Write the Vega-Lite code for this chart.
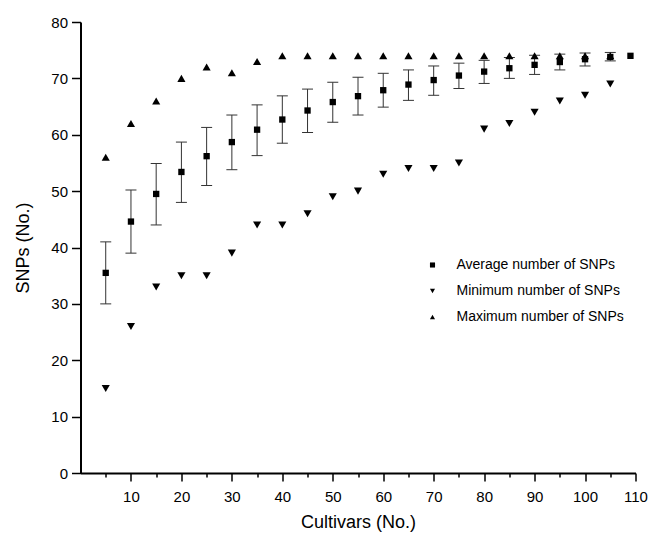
{
  "$schema": "https://vega.github.io/schema/vega-lite/v6.json",
  "width": 555,
  "height": 451,
  "autosize": {"type": "none"},
  "padding": {"left": 80.5, "top": 22, "right": 24.5, "bottom": 63},
  "background": "white",
  "config": {
    "view": {"stroke": null},
    "axis": {
      "grid": false,
      "domainColor": "black",
      "domainWidth": 2,
      "tickColor": "black",
      "tickWidth": 1.5,
      "labelColor": "black",
      "titleColor": "black",
      "labelFont": "Liberation Sans",
      "labelFontSize": 15,
      "titleFont": "Liberation Sans",
      "titleFontSize": 18,
      "titleFontWeight": "normal"
    }
  },
  "resolve": {"axis": {"x": "independent"}},
  "datasets": {
    "err": [
      {"n": 5, "lo": 30, "hi": 41},
      {"n": 10, "lo": 39, "hi": 50.2},
      {"n": 15, "lo": 44, "hi": 54.9},
      {"n": 20, "lo": 48, "hi": 58.7},
      {"n": 25, "lo": 51, "hi": 61.3},
      {"n": 30, "lo": 53.8, "hi": 63.5},
      {"n": 35, "lo": 56.3, "hi": 65.3},
      {"n": 40, "lo": 58.5, "hi": 66.9},
      {"n": 45, "lo": 60.4, "hi": 68.1},
      {"n": 50, "lo": 62.2, "hi": 69.3},
      {"n": 55, "lo": 63.5, "hi": 70.2},
      {"n": 60, "lo": 64.9, "hi": 70.9},
      {"n": 65, "lo": 66.1, "hi": 71.5},
      {"n": 70, "lo": 67.0, "hi": 72.2},
      {"n": 75, "lo": 68.2, "hi": 72.7},
      {"n": 80, "lo": 69.1, "hi": 73.2},
      {"n": 85, "lo": 70.0, "hi": 73.7},
      {"n": 90, "lo": 70.7, "hi": 74.1},
      {"n": 95, "lo": 71.5, "hi": 74.3},
      {"n": 100, "lo": 72.2, "hi": 74.5},
      {"n": 105, "lo": 73.1, "hi": 74.6}
    ],
    "pts": [
      {"n": 5, "series": "Maximum number of SNPs", "snps": 56},
      {"n": 10, "series": "Maximum number of SNPs", "snps": 62},
      {"n": 15, "series": "Maximum number of SNPs", "snps": 66},
      {"n": 20, "series": "Maximum number of SNPs", "snps": 70},
      {"n": 25, "series": "Maximum number of SNPs", "snps": 72},
      {"n": 30, "series": "Maximum number of SNPs", "snps": 71},
      {"n": 35, "series": "Maximum number of SNPs", "snps": 73},
      {"n": 40, "series": "Maximum number of SNPs", "snps": 74},
      {"n": 45, "series": "Maximum number of SNPs", "snps": 74},
      {"n": 50, "series": "Maximum number of SNPs", "snps": 74},
      {"n": 55, "series": "Maximum number of SNPs", "snps": 74},
      {"n": 60, "series": "Maximum number of SNPs", "snps": 74},
      {"n": 65, "series": "Maximum number of SNPs", "snps": 74},
      {"n": 70, "series": "Maximum number of SNPs", "snps": 74},
      {"n": 75, "series": "Maximum number of SNPs", "snps": 74},
      {"n": 80, "series": "Maximum number of SNPs", "snps": 74},
      {"n": 85, "series": "Maximum number of SNPs", "snps": 74},
      {"n": 90, "series": "Maximum number of SNPs", "snps": 74},
      {"n": 95, "series": "Maximum number of SNPs", "snps": 74},
      {"n": 100, "series": "Maximum number of SNPs", "snps": 74},
      {"n": 105, "series": "Maximum number of SNPs", "snps": 74},
      {"n": 5, "series": "Minimum number of SNPs", "snps": 15},
      {"n": 10, "series": "Minimum number of SNPs", "snps": 26},
      {"n": 15, "series": "Minimum number of SNPs", "snps": 33},
      {"n": 20, "series": "Minimum number of SNPs", "snps": 35},
      {"n": 25, "series": "Minimum number of SNPs", "snps": 35},
      {"n": 30, "series": "Minimum number of SNPs", "snps": 39},
      {"n": 35, "series": "Minimum number of SNPs", "snps": 44},
      {"n": 40, "series": "Minimum number of SNPs", "snps": 44},
      {"n": 45, "series": "Minimum number of SNPs", "snps": 46},
      {"n": 50, "series": "Minimum number of SNPs", "snps": 49},
      {"n": 55, "series": "Minimum number of SNPs", "snps": 50},
      {"n": 60, "series": "Minimum number of SNPs", "snps": 53},
      {"n": 65, "series": "Minimum number of SNPs", "snps": 54},
      {"n": 70, "series": "Minimum number of SNPs", "snps": 54},
      {"n": 75, "series": "Minimum number of SNPs", "snps": 55},
      {"n": 80, "series": "Minimum number of SNPs", "snps": 61},
      {"n": 85, "series": "Minimum number of SNPs", "snps": 62},
      {"n": 90, "series": "Minimum number of SNPs", "snps": 64},
      {"n": 95, "series": "Minimum number of SNPs", "snps": 66},
      {"n": 100, "series": "Minimum number of SNPs", "snps": 67},
      {"n": 105, "series": "Minimum number of SNPs", "snps": 69},
      {"n": 5, "series": "Average number of SNPs", "snps": 35.5},
      {"n": 10, "series": "Average number of SNPs", "snps": 44.6},
      {"n": 15, "series": "Average number of SNPs", "snps": 49.5},
      {"n": 20, "series": "Average number of SNPs", "snps": 53.4},
      {"n": 25, "series": "Average number of SNPs", "snps": 56.2},
      {"n": 30, "series": "Average number of SNPs", "snps": 58.7},
      {"n": 35, "series": "Average number of SNPs", "snps": 60.9},
      {"n": 40, "series": "Average number of SNPs", "snps": 62.7},
      {"n": 45, "series": "Average number of SNPs", "snps": 64.3},
      {"n": 50, "series": "Average number of SNPs", "snps": 65.8},
      {"n": 55, "series": "Average number of SNPs", "snps": 66.85},
      {"n": 60, "series": "Average number of SNPs", "snps": 67.9},
      {"n": 65, "series": "Average number of SNPs", "snps": 68.9},
      {"n": 70, "series": "Average number of SNPs", "snps": 69.7},
      {"n": 75, "series": "Average number of SNPs", "snps": 70.5},
      {"n": 80, "series": "Average number of SNPs", "snps": 71.2},
      {"n": 85, "series": "Average number of SNPs", "snps": 71.8},
      {"n": 90, "series": "Average number of SNPs", "snps": 72.4},
      {"n": 95, "series": "Average number of SNPs", "snps": 72.9},
      {"n": 100, "series": "Average number of SNPs", "snps": 73.4},
      {"n": 105, "series": "Average number of SNPs", "snps": 73.8},
      {"n": 109, "series": "Average number of SNPs", "snps": 74}
    ]
  },
  "layer": [
    {
      "data": {"name": "err"},
      "mark": {"type": "rule", "color": "#333333", "strokeWidth": 1},
      "encoding": {
        "x": {
          "field": "n", "type": "quantitative",
          "scale": {"domain": [0, 110], "nice": false, "zero": false},
          "axis": {
            "orient": "bottom",
            "title": "Cultivars (No.)",
            "values": [10, 20, 30, 40, 50, 60, 70, 80, 90, 100, 110],
            "tickSize": 8,
            "labelPadding": 8,
            "labelOverlap": false,
            "labelFlush": false,
            "titlePadding": 9
          }
        },
        "y": {
          "field": "lo", "type": "quantitative",
          "scale": {"domain": [0, 80], "nice": false},
          "axis": {
            "title": "SNPs (No.)",
            "values": [0, 5, 10, 15, 20, 25, 30, 35, 40, 45, 50, 55, 60, 65, 70, 75, 80],
            "labelExpr": "datum.value % 10 === 0 ? datum.label : ''",
            "tickSize": {"condition": {"test": "datum.value % 10 === 0", "value": 9}, "value": 5},
            "labelPadding": 4,
            "labelOverlap": false,
            "labelFlush": false,
            "titlePadding": 18
          }
        },
        "y2": {"field": "hi"}
      }
    },
    {
      "data": {"name": "err"},
      "mark": {"type": "tick", "orient": "horizontal", "size": 11, "thickness": 1, "color": "#333333", "opacity": 1},
      "encoding": {
        "x": {
          "field": "n", "type": "quantitative",
          "axis": {
            "orient": "bottom",
            "title": null,
            "values": [5, 15, 25, 35, 45, 55, 65, 75, 85, 95, 105],
            "tickSize": 4,
            "labels": false,
            "domain": false
          }
        },
        "y": {"field": "lo", "type": "quantitative", "title": "SNPs (No.)"}
      }
    },
    {
      "data": {"name": "err"},
      "mark": {"type": "tick", "orient": "horizontal", "size": 11, "thickness": 1, "color": "#333333", "opacity": 1},
      "encoding": {
        "x": {"field": "n", "type": "quantitative", "axis": null},
        "y": {"field": "hi", "type": "quantitative", "title": "SNPs (No.)"}
      }
    },
    {
      "data": {"name": "pts"},
      "transform": [{"filter": "datum.series !== 'Average number of SNPs'"}],
      "mark": {"type": "point", "filled": true, "color": "black", "opacity": 1, "size": 66},
      "encoding": {
        "x": {"field": "n", "type": "quantitative", "axis": null},
        "y": {"field": "snps", "type": "quantitative", "title": "SNPs (No.)"},
        "shape": {
          "field": "series", "type": "nominal",
          "scale": {
            "domain": ["Average number of SNPs", "Minimum number of SNPs", "Maximum number of SNPs"],
            "range": ["square", "triangle-down", "triangle-up"]
          },
          "legend": {
            "title": null,
            "orient": "none",
            "legendX": 345,
            "legendY": 236,
            "padding": 0,
            "labelFont": "Liberation Sans",
            "labelFontSize": 14,
            "labelColor": "black",
            "labelLimit": 0,
            "symbolSize": 26,
            "symbolFillColor": "black",
            "symbolStrokeColor": "black",
            "symbolStrokeWidth": 0,
            "labelOffset": 17,
            "rowPadding": 12
          }
        }
      }
    },
    {
      "data": {"name": "pts"},
      "transform": [{"filter": "datum.series === 'Average number of SNPs'"}],
      "mark": {"type": "point", "filled": true, "color": "black", "opacity": 1, "size": 40},
      "encoding": {
        "x": {"field": "n", "type": "quantitative", "axis": null},
        "y": {"field": "snps", "type": "quantitative", "title": "SNPs (No.)"},
        "shape": {
          "field": "series", "type": "nominal",
          "scale": {
            "domain": ["Average number of SNPs", "Minimum number of SNPs", "Maximum number of SNPs"],
            "range": ["square", "triangle-down", "triangle-up"]
          }
        }
      }
    }
  ]
}
